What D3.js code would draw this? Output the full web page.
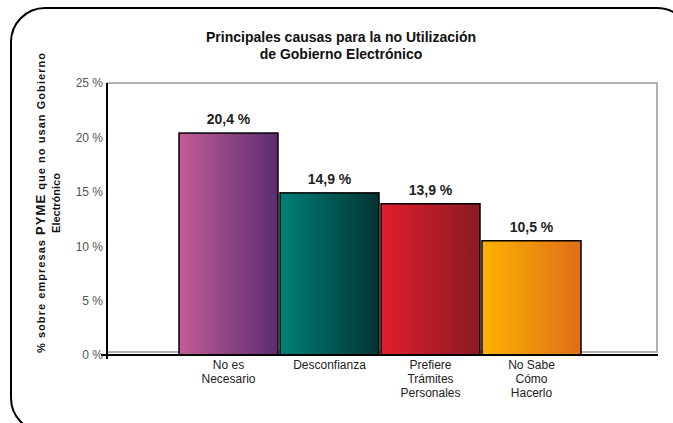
<!DOCTYPE html>
<html>
<head>
<meta charset="utf-8">
<script src="https://cdn.jsdelivr.net/npm/d3@7"></script>
<style>
  body { margin: 0; background: #fff; }
  svg { display: block; font-family: "Liberation Sans", Arial, sans-serif; }
</style>
</head>
<body>
<div id="chart"></div>
<script>
const categories = [
  ["No es", "Necesario"],
  ["Desconfianza"],
  ["Prefiere", "Trámites", "Personales"],
  ["No Sabe", "Cómo", "Hacerlo"]
];
const values = [20.4, 14.9, 13.9, 10.5];
const valueLabels = ["20,4 %", "14,9 %", "13,9 %", "10,5 %"];
const yTicks = [0, 5, 10, 15, 20, 25];
const barColors = [
  ["#c35c95", "#5b2c70"],
  ["#008079", "#043332"],
  ["#e21e2d", "#891c24"],
  ["#fdb300", "#de6e1a"]
];

const W = 673, H = 423;
const plot = { left: 107, right: 657, top: 83, bottom: 355 };

const svg = d3.select("#chart").append("svg")
  .attr("width", W).attr("height", H);

// gradients for the bars
const defs = svg.append("defs");
barColors.forEach((c, i) => {
  const g = defs.append("linearGradient")
    .attr("id", "grad" + i)
    .attr("x1", "0%").attr("x2", "100%").attr("y1", "0%").attr("y2", "0%");
  g.append("stop").attr("offset", "0%").attr("stop-color", c[0]);
  g.append("stop").attr("offset", "100%").attr("stop-color", c[1]);
});

// outer rounded frame
svg.append("rect")
  .attr("x", 11).attr("y", 8)
  .attr("width", 680).attr("height", 424)
  .attr("rx", 34).attr("ry", 34)
  .attr("fill", "none")
  .attr("stroke", "#000")
  .attr("stroke-width", 2);

// title
const title = svg.append("text")
  .attr("text-anchor", "middle")
  .attr("font-size", 14)
  .attr("font-weight", "bold")
  .attr("fill", "#111");
title.append("tspan").attr("x", 341).attr("y", 42).text("Principales causas para la no Utilización");
title.append("tspan").attr("x", 341).attr("y", 59).text("de Gobierno Electrónico");

const x = d3.scaleBand()
  .domain(d3.range(values.length))
  .range([179, 581])
  .paddingInner(0.02);

const y = d3.scaleLinear()
  .domain([0, 25])
  .range([plot.bottom, plot.top]);

// plot frame (top and right, gray)
svg.append("path")
  .attr("d", `M${plot.left},${plot.top}H${plot.right}V${y(0) - 3}H${plot.left}`)
  .attr("fill", "none")
  .attr("stroke", "#999")
  .attr("stroke-width", 1.5);

// y axis
const yAxis = svg.append("g")
  .attr("transform", `translate(${plot.left},0)`)
  .call(d3.axisLeft(y).tickValues(yTicks).tickSize(0).tickPadding(4).tickFormat((d) => d + " %"));
yAxis.select(".domain").remove();
yAxis.selectAll("text")
  .attr("font-size", 12)
  .attr("font-family", "Liberation Sans, Arial, sans-serif")
  .attr("fill", "#555");

svg.append("line")
  .attr("x1", plot.left).attr("x2", plot.left)
  .attr("y1", plot.top).attr("y2", plot.bottom + 4)
  .attr("stroke", "#000").attr("stroke-width", 2);

// bars
svg.selectAll("rect.bar")
  .data(values)
  .join("rect")
  .attr("class", "bar")
  .attr("x", (d, i) => x(i))
  .attr("y", (d) => y(d))
  .attr("width", x.bandwidth())
  .attr("height", (d) => y(0) - y(d))
  .attr("fill", (d, i) => `url(#grad${i})`)
  .attr("stroke", "#000")
  .attr("stroke-width", 1.5);

// x base line
svg.append("line")
  .attr("x1", plot.left - 6).attr("x2", plot.right + 1)
  .attr("y1", y(0)).attr("y2", y(0))
  .attr("stroke", "#000").attr("stroke-width", 2);

// value labels
svg.selectAll("text.val")
  .data(values)
  .join("text")
  .attr("class", "val")
  .attr("x", (d, i) => x(i) + x.bandwidth() / 2)
  .attr("y", (d) => y(d) - 9)
  .attr("text-anchor", "middle")
  .attr("font-size", 14)
  .attr("font-weight", "bold")
  .attr("fill", "#222")
  .text((d, i) => valueLabels[i]);

// category labels
const cat = svg.selectAll("text.cat")
  .data(categories)
  .join("text")
  .attr("class", "cat")
  .attr("text-anchor", "middle")
  .attr("font-size", 12)
  .attr("fill", "#222");
cat.each(function (lines, i) {
  const t = d3.select(this);
  lines.forEach((ln, j) => {
    t.append("tspan")
      .attr("x", x(i) + x.bandwidth() / 2)
      .attr("y", 369 + j * 14)
      .text(ln);
  });
});

// y axis title
const yt = svg.append("text")
  .attr("transform", "translate(45,203) rotate(-90)")
  .attr("text-anchor", "middle")
  .attr("font-size", 11)
  .attr("font-weight", "bold")
  .attr("fill", "#111")
  .attr("textLength", 300)
  .attr("lengthAdjust", "spacing");
yt.append("tspan").text("% sobre empresas ");
yt.append("tspan").attr("font-size", 13).text("PYME");
yt.append("tspan").text(" que no usan Gobierno");

svg.append("text")
  .attr("transform", "translate(60,203) rotate(-90)")
  .attr("text-anchor", "middle")
  .attr("font-size", 11)
  .attr("font-weight", "bold")
  .attr("fill", "#111")
  .text("Electrónico");
</script>
</body>
</html>
